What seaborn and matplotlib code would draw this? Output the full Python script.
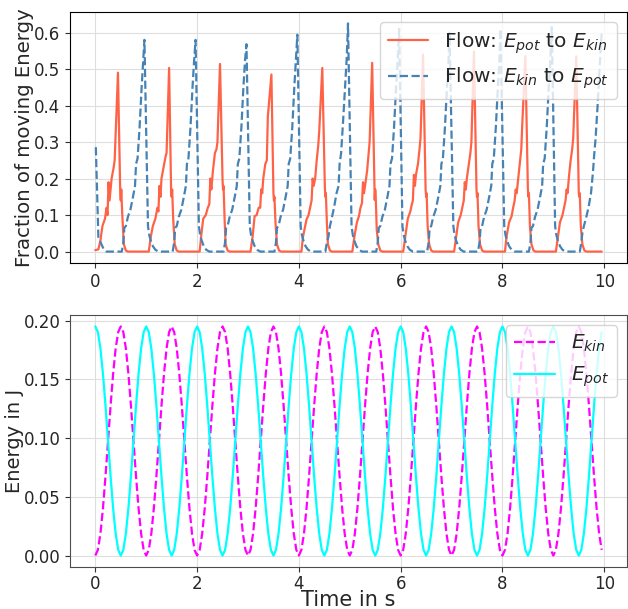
import numpy as np
import pandas as pd
import seaborn as sns
import matplotlib.pyplot as plt

# top panel: flow of energy (one row per swing)
red_t = [
    0.00, 0.06, 0.10, 0.14, 0.19, 0.22, 0.24, 0.26, 0.28, 0.32, 0.36, 0.38, 0.445, 0.49, 0.50, 0.51, 0.53, 0.56, 0.60, 0.64,
    1.05, 1.09, 1.13, 1.18, 1.22, 1.24, 1.26, 1.28, 1.30, 1.34, 1.38, 1.40, 1.45, 1.49, 1.50, 1.51, 1.53, 1.56, 1.60, 1.64,
    2.05, 2.08, 2.12, 2.17, 2.21, 2.24, 2.26, 2.28, 2.31, 2.35, 2.38, 2.40, 2.45, 2.50, 2.51, 2.52, 2.54, 2.56, 2.60, 2.64,
    3.05, 3.09, 3.13, 3.17, 3.21, 3.24, 3.26, 3.28, 3.30, 3.34, 3.37, 3.39, 3.46, 3.50, 3.51, 3.52, 3.54, 3.57, 3.61, 3.65,
    4.05, 4.08, 4.15, 4.19, 4.22, 4.25, 4.27, 4.29, 4.32, 4.35, 4.38, 4.40, 4.46, 4.51, 4.52, 4.53, 4.55, 4.57, 4.61, 4.65,
    5.05, 5.09, 5.14, 5.18, 5.21, 5.24, 5.26, 5.28, 5.31, 5.34, 5.37, 5.39, 5.44, 5.49, 5.50, 5.51, 5.53, 5.56, 5.60, 5.64,
    6.05, 6.09, 6.14, 6.19, 6.22, 6.24, 6.26, 6.28, 6.30, 6.34, 6.37, 6.39, 6.44, 6.49, 6.50, 6.51, 6.53, 6.56, 6.60, 6.64,
    7.05, 7.09, 7.13, 7.18, 7.21, 7.24, 7.26, 7.28, 7.30, 7.34, 7.37, 7.39, 7.44, 7.49, 7.50, 7.51, 7.53, 7.56, 7.60, 7.64,
    8.05, 8.08, 8.13, 8.18, 8.21, 8.24, 8.26, 8.28, 8.31, 8.34, 8.37, 8.39, 8.45, 8.50, 8.51, 8.52, 8.54, 8.57, 8.61, 8.65,
    9.05, 9.09, 9.13, 9.18, 9.21, 9.24, 9.26, 9.28, 9.31, 9.34, 9.37, 9.39, 9.45, 9.50, 9.51, 9.52, 9.54, 9.57, 9.61, 9.65,
    9.95,
]
red_v = [
    0.004, 0.006, 0.03, 0.07, 0.09, 0.12, 0.10, 0.19, 0.14, 0.20, 0.23, 0.25, 0.49, 0.16, 0.14, 0.17, 0.10, 0.02, 0.003, 0.0,
    0.0, 0.04, 0.07, 0.09, 0.12, 0.11, 0.18, 0.15, 0.20, 0.23, 0.26, 0.27, 0.503, 0.16, 0.15, 0.17, 0.09, 0.02, 0.003, 0.0,
    0.0, 0.042, 0.09, 0.10, 0.12, 0.13, 0.20, 0.17, 0.22, 0.27, 0.28, 0.30, 0.514, 0.196, 0.17, 0.18, 0.09, 0.02, 0.003, 0.0,
    0.0, 0.04, 0.097, 0.10, 0.12, 0.12, 0.17, 0.16, 0.20, 0.24, 0.25, 0.37, 0.485, 0.16, 0.14, 0.15, 0.08, 0.02, 0.003, 0.0,
    0.0, 0.04, 0.088, 0.10, 0.12, 0.14, 0.20, 0.18, 0.20, 0.25, 0.29, 0.33, 0.503, 0.178, 0.15, 0.16, 0.08, 0.02, 0.003, 0.0,
    0.0, 0.04, 0.08, 0.097, 0.12, 0.133, 0.19, 0.16, 0.19, 0.22, 0.27, 0.30, 0.517, 0.142, 0.17, 0.15, 0.06, 0.02, 0.003, 0.0,
    0.0, 0.04, 0.09, 0.11, 0.13, 0.14, 0.21, 0.18, 0.21, 0.24, 0.28, 0.31, 0.54, 0.17, 0.15, 0.16, 0.07, 0.02, 0.003, 0.0,
    0.0, 0.04, 0.08, 0.10, 0.12, 0.14, 0.19, 0.17, 0.20, 0.24, 0.27, 0.30, 0.548, 0.17, 0.15, 0.16, 0.07, 0.02, 0.003, 0.0,
    0.0, 0.04, 0.08, 0.097, 0.12, 0.14, 0.17, 0.16, 0.20, 0.24, 0.28, 0.35, 0.535, 0.17, 0.15, 0.16, 0.07, 0.02, 0.003, 0.0,
    0.0, 0.04, 0.08, 0.10, 0.12, 0.14, 0.17, 0.16, 0.21, 0.25, 0.28, 0.31, 0.535, 0.16, 0.15, 0.16, 0.07, 0.02, 0.003, 0.0,
    0.0,
]

blue_t = [
    0.01, 0.06, 0.09, 0.12, 0.16, 0.22, 0.52,
    0.55, 0.57, 0.60, 0.64, 0.69, 0.74, 0.78, 0.80, 0.83, 0.87, 0.91, 0.94, 0.965,
    1.035, 1.06, 1.09, 1.13, 1.18, 1.24, 1.52,
    1.55, 1.57, 1.60, 1.64, 1.69, 1.74, 1.78, 1.80, 1.83, 1.87, 1.91, 1.94, 1.97,
    2.035, 2.06, 2.09, 2.13, 2.18, 2.24, 2.52,
    2.55, 2.57, 2.60, 2.64, 2.69, 2.74, 2.78, 2.80, 2.83, 2.87, 2.91, 2.94, 2.97,
    3.035, 3.06, 3.09, 3.13, 3.18, 3.24, 3.52,
    3.55, 3.57, 3.60, 3.64, 3.69, 3.74, 3.78, 3.80, 3.83, 3.87, 3.91, 3.94, 3.97,
    4.035, 4.06, 4.09, 4.13, 4.18, 4.24, 4.52,
    4.55, 4.58, 4.61, 4.64, 4.69, 4.74, 4.78, 4.80, 4.83, 4.87, 4.91, 4.94, 4.965,
    5.035, 5.06, 5.09, 5.13, 5.18, 5.24, 5.52,
    5.55, 5.57, 5.60, 5.64, 5.69, 5.74, 5.78, 5.80, 5.83, 5.87, 5.91, 5.94, 5.97,
    6.035, 6.06, 6.09, 6.13, 6.18, 6.24, 6.52,
    6.55, 6.57, 6.60, 6.64, 6.69, 6.74, 6.78, 6.80, 6.83, 6.87, 6.91, 6.94, 6.96,
    7.035, 7.06, 7.09, 7.13, 7.18, 7.24, 7.52,
    7.55, 7.57, 7.60, 7.64, 7.69, 7.74, 7.78, 7.80, 7.83, 7.87, 7.91, 7.94, 7.96,
    8.035, 8.06, 8.09, 8.13, 8.18, 8.24, 8.52,
    8.55, 8.57, 8.60, 8.64, 8.69, 8.74, 8.78, 8.80, 8.83, 8.87, 8.91, 8.94, 8.97,
    9.035, 9.06, 9.09, 9.13, 9.18, 9.24, 9.52,
    9.55, 9.57, 9.60, 9.64, 9.69, 9.74, 9.78, 9.80, 9.83, 9.87, 9.90, 9.93, 9.95,
]
blue_v = [
    0.286, 0.04, 0.03, 0.02, 0.008, 0.0, 0.0,
    0.025, 0.065, 0.07, 0.095, 0.115, 0.15, 0.18, 0.24, 0.255, 0.34, 0.45, 0.52, 0.58,
    0.07, 0.045, 0.03, 0.015, 0.005, 0.0, 0.0,
    0.025, 0.065, 0.07, 0.095, 0.115, 0.15, 0.18, 0.24, 0.255, 0.34, 0.45, 0.52, 0.58,
    0.07, 0.045, 0.03, 0.015, 0.005, 0.0, 0.0,
    0.025, 0.065, 0.07, 0.095, 0.115, 0.15, 0.18, 0.24, 0.255, 0.34, 0.45, 0.52, 0.568,
    0.07, 0.045, 0.03, 0.015, 0.005, 0.0, 0.0,
    0.025, 0.065, 0.07, 0.095, 0.115, 0.15, 0.18, 0.24, 0.255, 0.34, 0.45, 0.52, 0.594,
    0.07, 0.045, 0.03, 0.015, 0.005, 0.0, 0.0,
    0.025, 0.04, 0.07, 0.088, 0.12, 0.16, 0.18, 0.24, 0.27, 0.36, 0.46, 0.53, 0.625,
    0.07, 0.045, 0.03, 0.015, 0.005, 0.0, 0.0,
    0.025, 0.065, 0.07, 0.095, 0.115, 0.15, 0.18, 0.24, 0.255, 0.34, 0.45, 0.52, 0.61,
    0.07, 0.045, 0.03, 0.015, 0.005, 0.0, 0.0,
    0.025, 0.065, 0.07, 0.095, 0.115, 0.15, 0.18, 0.24, 0.255, 0.34, 0.45, 0.52, 0.60,
    0.07, 0.045, 0.03, 0.015, 0.005, 0.0, 0.0,
    0.025, 0.065, 0.07, 0.095, 0.115, 0.15, 0.18, 0.24, 0.255, 0.34, 0.45, 0.52, 0.61,
    0.07, 0.045, 0.03, 0.015, 0.005, 0.0, 0.0,
    0.025, 0.065, 0.07, 0.095, 0.115, 0.15, 0.18, 0.24, 0.255, 0.34, 0.45, 0.52, 0.615,
    0.07, 0.045, 0.03, 0.015, 0.005, 0.0, 0.0,
    0.025, 0.05, 0.07, 0.09, 0.12, 0.16, 0.22, 0.26, 0.31, 0.40, 0.48, 0.55, 0.60,
]

# bottom panel: energies, sampled every 0.05 s
time_s = np.round(np.arange(0, 10, 0.05), 2)
e_pot = [
    0.195, 0.1902, 0.1764, 0.1548, 0.1276, 0.0975, 0.0674, 0.0402, 0.0186, 0.0048, 0.0, 0.0048, 0.0186, 0.0402, 0.0674, 0.0975, 0.1276, 0.1548, 0.1764, 0.1902,
    0.195, 0.1902, 0.1764, 0.1548, 0.1276, 0.0975, 0.0674, 0.0402, 0.0186, 0.0048, 0.0, 0.0048, 0.0186, 0.0402, 0.0674, 0.0975, 0.1276, 0.1548, 0.1764, 0.1902,
    0.195, 0.1902, 0.1764, 0.1548, 0.1276, 0.0975, 0.0674, 0.0402, 0.0186, 0.0048, 0.0, 0.0048, 0.0186, 0.0402, 0.0674, 0.0975, 0.1276, 0.1548, 0.1764, 0.1902,
    0.195, 0.1902, 0.1764, 0.1548, 0.1276, 0.0975, 0.0674, 0.0402, 0.0186, 0.0048, 0.0, 0.0048, 0.0186, 0.0402, 0.0674, 0.0975, 0.1276, 0.1548, 0.1764, 0.1902,
    0.195, 0.1902, 0.1764, 0.1548, 0.1276, 0.0975, 0.0674, 0.0402, 0.0186, 0.0048, 0.0, 0.0048, 0.0186, 0.0402, 0.0674, 0.0975, 0.1276, 0.1548, 0.1764, 0.1902,
    0.195, 0.1902, 0.1764, 0.1548, 0.1276, 0.0975, 0.0674, 0.0402, 0.0186, 0.0048, 0.0, 0.0048, 0.0186, 0.0402, 0.0674, 0.0975, 0.1276, 0.1548, 0.1764, 0.1902,
    0.195, 0.1902, 0.1764, 0.1548, 0.1276, 0.0975, 0.0674, 0.0402, 0.0186, 0.0048, 0.0, 0.0048, 0.0186, 0.0402, 0.0674, 0.0975, 0.1276, 0.1548, 0.1764, 0.1902,
    0.195, 0.1902, 0.1764, 0.1548, 0.1276, 0.0975, 0.0674, 0.0402, 0.0186, 0.0048, 0.0, 0.0048, 0.0186, 0.0402, 0.0674, 0.0975, 0.1276, 0.1548, 0.1764, 0.1902,
    0.195, 0.1902, 0.1764, 0.1548, 0.1276, 0.0975, 0.0674, 0.0402, 0.0186, 0.0048, 0.0, 0.0048, 0.0186, 0.0402, 0.0674, 0.0975, 0.1276, 0.1548, 0.1764, 0.1902,
    0.195, 0.1902, 0.1764, 0.1548, 0.1276, 0.0975, 0.0674, 0.0402, 0.0186, 0.0048, 0.0, 0.0048, 0.0186, 0.0402, 0.0674, 0.0975, 0.1276, 0.1548, 0.1764, 0.1902,
]
e_kin = [
    0.0, 0.0048, 0.0186, 0.0402, 0.0674, 0.0975, 0.1276, 0.1548, 0.1764, 0.1902, 0.195, 0.1902, 0.1764, 0.1548, 0.1276, 0.0975, 0.0674, 0.0402, 0.0186, 0.0048,
    0.0, 0.0048, 0.0186, 0.0402, 0.0674, 0.0975, 0.1276, 0.1548, 0.1764, 0.1902, 0.195, 0.1902, 0.1764, 0.1548, 0.1276, 0.0975, 0.0674, 0.0402, 0.0186, 0.0048,
    0.0, 0.0048, 0.0186, 0.0402, 0.0674, 0.0975, 0.1276, 0.1548, 0.1764, 0.1902, 0.195, 0.1902, 0.1764, 0.1548, 0.1276, 0.0975, 0.0674, 0.0402, 0.0186, 0.0048,
    0.0, 0.0048, 0.0186, 0.0402, 0.0674, 0.0975, 0.1276, 0.1548, 0.1764, 0.1902, 0.195, 0.1902, 0.1764, 0.1548, 0.1276, 0.0975, 0.0674, 0.0402, 0.0186, 0.0048,
    0.0, 0.0048, 0.0186, 0.0402, 0.0674, 0.0975, 0.1276, 0.1548, 0.1764, 0.1902, 0.195, 0.1902, 0.1764, 0.1548, 0.1276, 0.0975, 0.0674, 0.0402, 0.0186, 0.0048,
    0.0, 0.0048, 0.0186, 0.0402, 0.0674, 0.0975, 0.1276, 0.1548, 0.1764, 0.1902, 0.195, 0.1902, 0.1764, 0.1548, 0.1276, 0.0975, 0.0674, 0.0402, 0.0186, 0.0048,
    0.0, 0.0048, 0.0186, 0.0402, 0.0674, 0.0975, 0.1276, 0.1548, 0.1764, 0.1902, 0.195, 0.1902, 0.1764, 0.1548, 0.1276, 0.0975, 0.0674, 0.0402, 0.0186, 0.0048,
    0.0, 0.0048, 0.0186, 0.0402, 0.0674, 0.0975, 0.1276, 0.1548, 0.1764, 0.1902, 0.195, 0.1902, 0.1764, 0.1548, 0.1276, 0.0975, 0.0674, 0.0402, 0.0186, 0.0048,
    0.0, 0.0048, 0.0186, 0.0402, 0.0674, 0.0975, 0.1276, 0.1548, 0.1764, 0.1902, 0.195, 0.1902, 0.1764, 0.1548, 0.1276, 0.0975, 0.0674, 0.0402, 0.0186, 0.0048,
    0.0, 0.0048, 0.0186, 0.0402, 0.0674, 0.0975, 0.1276, 0.1548, 0.1764, 0.1902, 0.195, 0.1902, 0.1764, 0.1548, 0.1276, 0.0975, 0.0674, 0.0402, 0.0186, 0.0048,
]

sns.set_style('whitegrid', {'axes.edgecolor': 'black', 'xtick.bottom': True, 'ytick.left': True,
                            'grid.color': '#dedede'})
plt.rcParams['font.family'] = ['DejaVu Sans']

fig = plt.figure(figsize=(6.28, 6.09), dpi=100)
ax1 = fig.add_axes([70/628, 1-263/609, 557/628, 251/609])
ax2 = fig.add_axes([70/628, 1-567/609, 557/628, 252/609])

sns.lineplot(x=red_t, y=red_v, ax=ax1, color='tomato', linewidth=1.6,
             estimator=None, sort=False, label=r'Flow: $E_{pot}$ to $E_{kin}$')
sns.lineplot(x=blue_t, y=blue_v, ax=ax1, color='steelblue', linewidth=1.6, linestyle='--',
             estimator=None, sort=False, label=r'Flow: $E_{kin}$ to $E_{pot}$')
ax1.set_ylabel('Fraction of moving Energy', fontsize=14.2)
ax1.yaxis.set_label_coords(-0.064, 0.5)
ax1.legend(fontsize=14.5, loc='upper right')

sns.lineplot(x=time_s, y=e_kin, ax=ax2, color='magenta', linewidth=1.6, linestyle='--',
             estimator=None, sort=False, label=r'$E_{kin}$')
sns.lineplot(x=time_s, y=e_pot, ax=ax2, color='cyan', linewidth=1.6,
             estimator=None, sort=False, label=r'$E_{pot}$')
ax2.set_ylabel('Energy in J', fontsize=14)
ax2.yaxis.set_label_coords(-0.083, 0.5)
ax2.set_xlabel('Time in s', fontsize=15)
ax2.xaxis.set_label_coords(0.5, -0.093)
ax2.legend(fontsize=14.5, loc='upper right')
for side in ax2.spines.values():
    side.set_color('#4d4d4d')

for ax in [ax1, ax2]:
    ax.tick_params(labelsize=12, length=3.5, width=0.8, color='#333333')
    ax.set_xticks([0, 2, 4, 6, 8, 10])
ax2.tick_params(axis='x', pad=2)

fig.savefig('out.png', dpi=100)
